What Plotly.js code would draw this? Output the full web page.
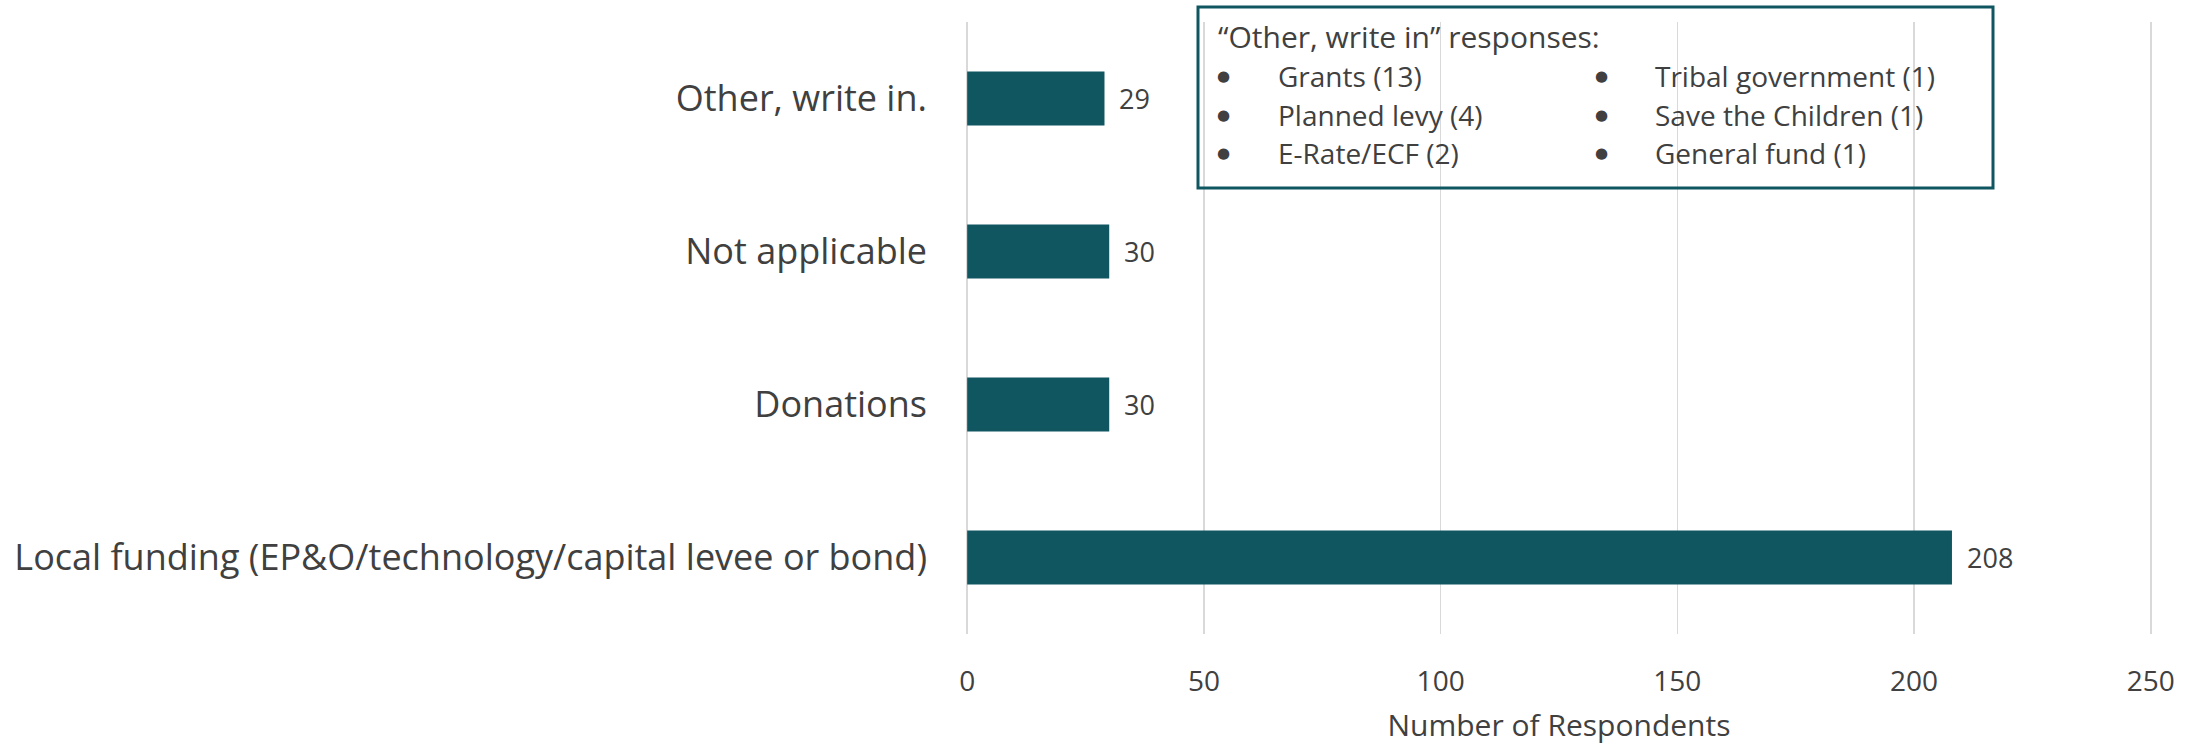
<!DOCTYPE html>
<html>
<head>
<meta charset="utf-8">
<script src="https://cdn.plot.ly/plotly-3.0.1.min.js"></script>
<style>html,body{margin:0;padding:0;background:#fff;}#chart{width:2201px;height:749px;}</style>
</head>
<body>
<div id="chart"></div>
<script>
// ---- data ----
const categories = [
  "Local funding (EP&O/technology/capital levee or bond)",
  "Donations",
  "Not applicable",
  "Other, write in."
];
const respondents = [208, 30, 30, 29];
const xTickValues = [0, 50, 100, 150, 200, 250];
const xAxisTitle = "Number of Respondents";
const noteTitle = "\u201COther, write in\u201D responses:";
const noteLeftItems = ["Grants (13)", "Planned levy (4)", "E-Rate/ECF (2)"];
const noteRightItems = ["Tribal government (1)", "Save the Children (1)", "General fund (1)"];

// ---- layout helpers (pixel -> paper) ----
const W = 2201, H = 749;
const M = {l: 966, r: 49, t: 22, b: 115};
const plotW = W - M.l - M.r, plotH = H - M.t - M.b;
const px = x => (x - M.l) / plotW;
const py = y => (H - M.b - y) / plotH;

const teal = "#0F5661";
const textColor = "#404040";
const fontFam = "'Open Sans', 'Noto Sans', sans-serif";

const annotations = [];
// data labels
categories.forEach((c, i) => {
  annotations.push({
    x: respondents[i], y: c, xref: "x", yref: "y",
    text: String(respondents[i]), showarrow: false,
    xanchor: "left", yanchor: "middle", xshift: 13,
    font: {family: fontFam, size: 27, color: textColor}
  });
});
// note box text
const noteFont = {family: fontFam, size: 28, color: textColor};
const bulletFont = {family: "'DejaVu Sans', sans-serif", size: 15, color: textColor};
annotations.push({
  x: px(1216), y: py(36), xref: "paper", yref: "paper",
  text: noteTitle, showarrow: false, xanchor: "left", yanchor: "middle",
  font: {family: fontFam, size: 30, color: textColor}
});
const lineY = [75.7, 114.5, 153];
noteLeftItems.forEach((t, i) => {
  annotations.push({x: px(1223), y: py(lineY[i]), xref: "paper", yref: "paper", text: "\u25CF",
    showarrow: false, xanchor: "center", yanchor: "middle", font: bulletFont});
  annotations.push({x: px(1276), y: py(lineY[i]), xref: "paper", yref: "paper", text: t,
    showarrow: false, xanchor: "left", yanchor: "middle", font: noteFont});
});
noteRightItems.forEach((t, i) => {
  annotations.push({x: px(1601), y: py(lineY[i]), xref: "paper", yref: "paper", text: "\u25CF",
    showarrow: false, xanchor: "center", yanchor: "middle", font: bulletFont});
  annotations.push({x: px(1653), y: py(lineY[i]), xref: "paper", yref: "paper", text: t,
    showarrow: false, xanchor: "left", yanchor: "middle", font: noteFont});
});

const trace = {
  type: "bar",
  orientation: "h",
  x: respondents,
  y: categories,
  marker: {color: teal},
  hoverinfo: "x+y"
};

const layout = {
  width: W, height: H,
  margin: M,
  paper_bgcolor: "#fff", plot_bgcolor: "#fff",
  bargap: 0.647,
  showlegend: false,
  font: {family: fontFam, color: textColor},
  xaxis: {
    range: [-0.25, 250.25],
    tickvals: xTickValues,
    ticktext: xTickValues.map(String),
    showgrid: true, gridcolor: "#D9D9D9", gridwidth: 1.5,
    zeroline: false, showline: false, ticks: "",
    ticklabelstandoff: 28,
    tickfont: {family: fontFam, size: 28, color: textColor},
    title: {text: xAxisTitle, font: {family: fontFam, size: 30, color: textColor}, standoff: 16}
  },
  yaxis: {
    type: "category",
    categoryorder: "array", categoryarray: categories,
    showgrid: false, zeroline: false, showline: false, ticks: "",
    ticklabelstandoff: 38,
    tickfont: {family: fontFam, size: 36, color: textColor}
  },
  shapes: [{
    type: "rect", xref: "paper", yref: "paper",
    x0: px(1198), x1: px(1993), y0: py(188), y1: py(7),
    line: {color: teal, width: 3}, fillcolor: "rgba(0,0,0,0)", layer: "above"
  }],
  annotations: annotations
};

Plotly.newPlot("chart", [trace], layout, {displayModeBar: false, staticPlot: true});
</script>
</body>
</html>
